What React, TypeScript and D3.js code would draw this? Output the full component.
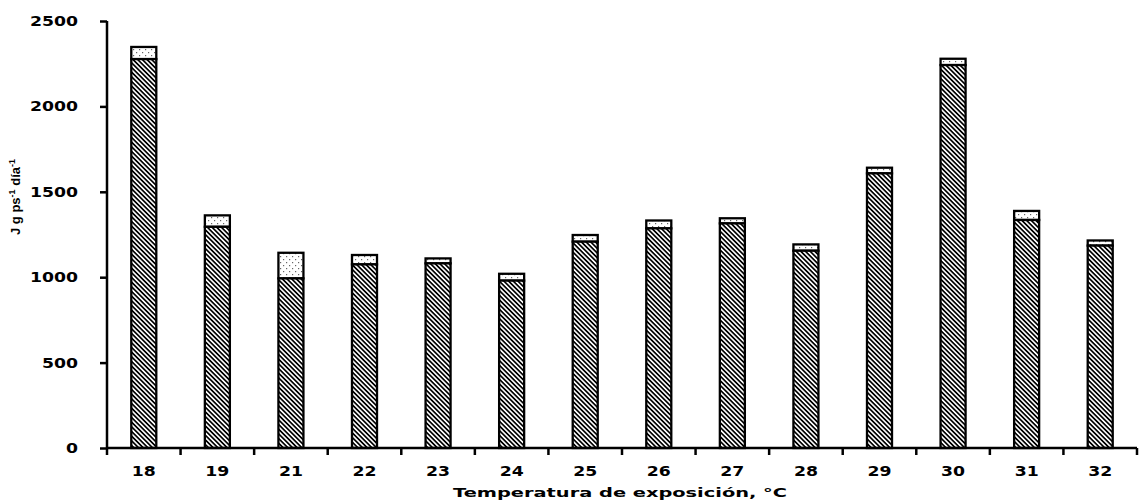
import React, { useEffect, useRef } from "react";
import * as d3 from "d3";

// temperature of exposure (°C)
const categories = ["18", "19", "21", "22", "23", "24", "25", "26", "27", "28", "29", "30", "31", "32"];
// lower (hatched) segment
const baseValues = [2277, 1295, 993, 1075, 1081, 980, 1208, 1286, 1315, 1155, 1608, 2242, 1335, 1185];
// total bar height (dotted segment on top)
const totalValues = [2348, 1362, 1143, 1130, 1110, 1020, 1247, 1332, 1345, 1192, 1641, 2279, 1388, 1215];
const yTicks = [0, 500, 1000, 1500, 2000, 2500];

const W = 1140;
const H = 504;
const margin = { left: 107, right: 3, top: 21, bottom: 56 };

export default function App() {
  const ref = useRef<SVGSVGElement>(null);

  useEffect(() => {
    const svg = d3.select(ref.current);
    svg.selectAll("*").remove();

    const defs = svg.append("defs");
    const hatch = defs
      .append("pattern")
      .attr("id", "hatch")
      .attr("patternUnits", "userSpaceOnUse")
      .attr("width", 8)
      .attr("height", 3.3)
      .attr("patternTransform", "rotate(45)");
    hatch.append("rect").attr("width", 8).attr("height", 3.3).attr("fill", "#fff");
    hatch.append("rect").attr("width", 8).attr("height", 1.7).attr("fill", "#000");

    const dots = defs
      .append("pattern")
      .attr("id", "dots")
      .attr("patternUnits", "userSpaceOnUse")
      .attr("width", 6)
      .attr("height", 6);
    dots.append("rect").attr("width", 6).attr("height", 6).attr("fill", "#fff");
    dots.append("rect").attr("x", 1).attr("y", 1).attr("width", 1.2).attr("height", 1.2).attr("fill", "#666");
    dots.append("rect").attr("x", 4).attr("y", 4).attr("width", 1.2).attr("height", 1.2).attr("fill", "#666");

    const x = d3
      .scaleBand<string>()
      .domain(categories)
      .range([margin.left, W - margin.right])
      .paddingInner(0.66)
      .paddingOuter(0.33);
    const y = d3.scaleLinear().domain([0, 2500]).range([H - margin.bottom, margin.top]);

    const g = svg.append("g");

    // top (dotted) segments
    g.selectAll("rect.top")
      .data(categories)
      .join("rect")
      .attr("class", "top")
      .attr("x", (d) => x(d)!)
      .attr("width", x.bandwidth())
      .attr("y", (d, i) => y(totalValues[i]))
      .attr("height", (d, i) => y(baseValues[i]) - y(totalValues[i]))
      .attr("fill", "url(#dots)")
      .attr("stroke", "#000")
      .attr("stroke-width", 2.3);

    // base (hatched) segments
    g.selectAll("rect.base")
      .data(categories)
      .join("rect")
      .attr("class", "base")
      .attr("x", (d) => x(d)!)
      .attr("width", x.bandwidth())
      .attr("y", (d, i) => y(baseValues[i]))
      .attr("height", (d, i) => y(0) - y(baseValues[i]))
      .attr("fill", "url(#hatch)")
      .attr("stroke", "#000")
      .attr("stroke-width", 2.3);

    // y axis
    const yAxis = svg
      .append("g")
      .attr("transform", `translate(${margin.left},0)`)
      .call(d3.axisLeft(y).tickValues(yTicks).tickFormat(d3.format("d")).tickSize(7).tickPadding(22));
    yAxis.select(".domain").attr("stroke-width", 2.5).attr("d", `M0,${y(2500)}V${y(0)}`);
    yAxis.selectAll(".tick line").attr("stroke-width", 2.5);
    yAxis
      .selectAll<SVGTextElement, number>(".tick text")
      .attr("font-family", "DejaVu Sans")
      .attr("font-weight", "bold")
      .attr("font-size", 14)
      .attr("fill", "#000")
      .attr("textLength", (d) => String(d).length * 12)
      .attr("lengthAdjust", "spacingAndGlyphs");

    // x axis
    const x0 = margin.left;
    const x1 = W - margin.right;
    const xAxis = svg.append("g").attr("transform", `translate(0,${y(0)})`);
    xAxis
      .append("line")
      .attr("x1", x0)
      .attr("x2", x1)
      .attr("stroke", "#000")
      .attr("stroke-width", 2.5);
    const step = x.step();
    xAxis
      .selectAll("line.tick")
      .data(d3.range(categories.length + 1))
      .join("line")
      .attr("class", "tick")
      .attr("x1", (i) => x0 + i * step)
      .attr("x2", (i) => x0 + i * step)
      .attr("y1", 0)
      .attr("y2", 7)
      .attr("stroke", "#000")
      .attr("stroke-width", 2.5);
    xAxis
      .selectAll("text")
      .data(categories)
      .join("text")
      .attr("x", (d) => x(d)! + x.bandwidth() / 2)
      .attr("y", 28)
      .attr("text-anchor", "middle")
      .attr("font-family", "DejaVu Sans")
      .attr("font-weight", "bold")
      .attr("font-size", 14)
      .attr("textLength", 24)
      .attr("lengthAdjust", "spacingAndGlyphs")
      .text((d) => d);

    svg
      .append("text")
      .attr("x", 620)
      .attr("y", 497)
      .attr("text-anchor", "middle")
      .attr("font-family", "DejaVu Sans")
      .attr("font-weight", "bold")
      .attr("font-size", 13)
      .attr("textLength", 334)
      .attr("lengthAdjust", "spacingAndGlyphs")
      .text("Temperatura de exposición, °C");

    // y axis title with superscripts
    const yt = svg
      .append("text")
      .attr("transform", `translate(20,197) rotate(-90)`)
      .attr("text-anchor", "middle")
      .attr("font-family", "Liberation Sans Narrow, Liberation Sans")
      .attr("font-weight", "bold")
      .attr("font-size", 13);
    yt.append("tspan").text("J g ps");
    yt.append("tspan").attr("dy", -5).attr("font-size", 9).text("-1");
    yt.append("tspan").attr("dy", 5).text(" día");
    yt.append("tspan").attr("dy", -5).attr("font-size", 9).text("-1");
  }, []);

  return (
    <svg
      ref={ref}
      width={W}
      height={H}
      style={{ position: "absolute", left: 0, top: 0, background: "#fff" }}
    />
  );
}
